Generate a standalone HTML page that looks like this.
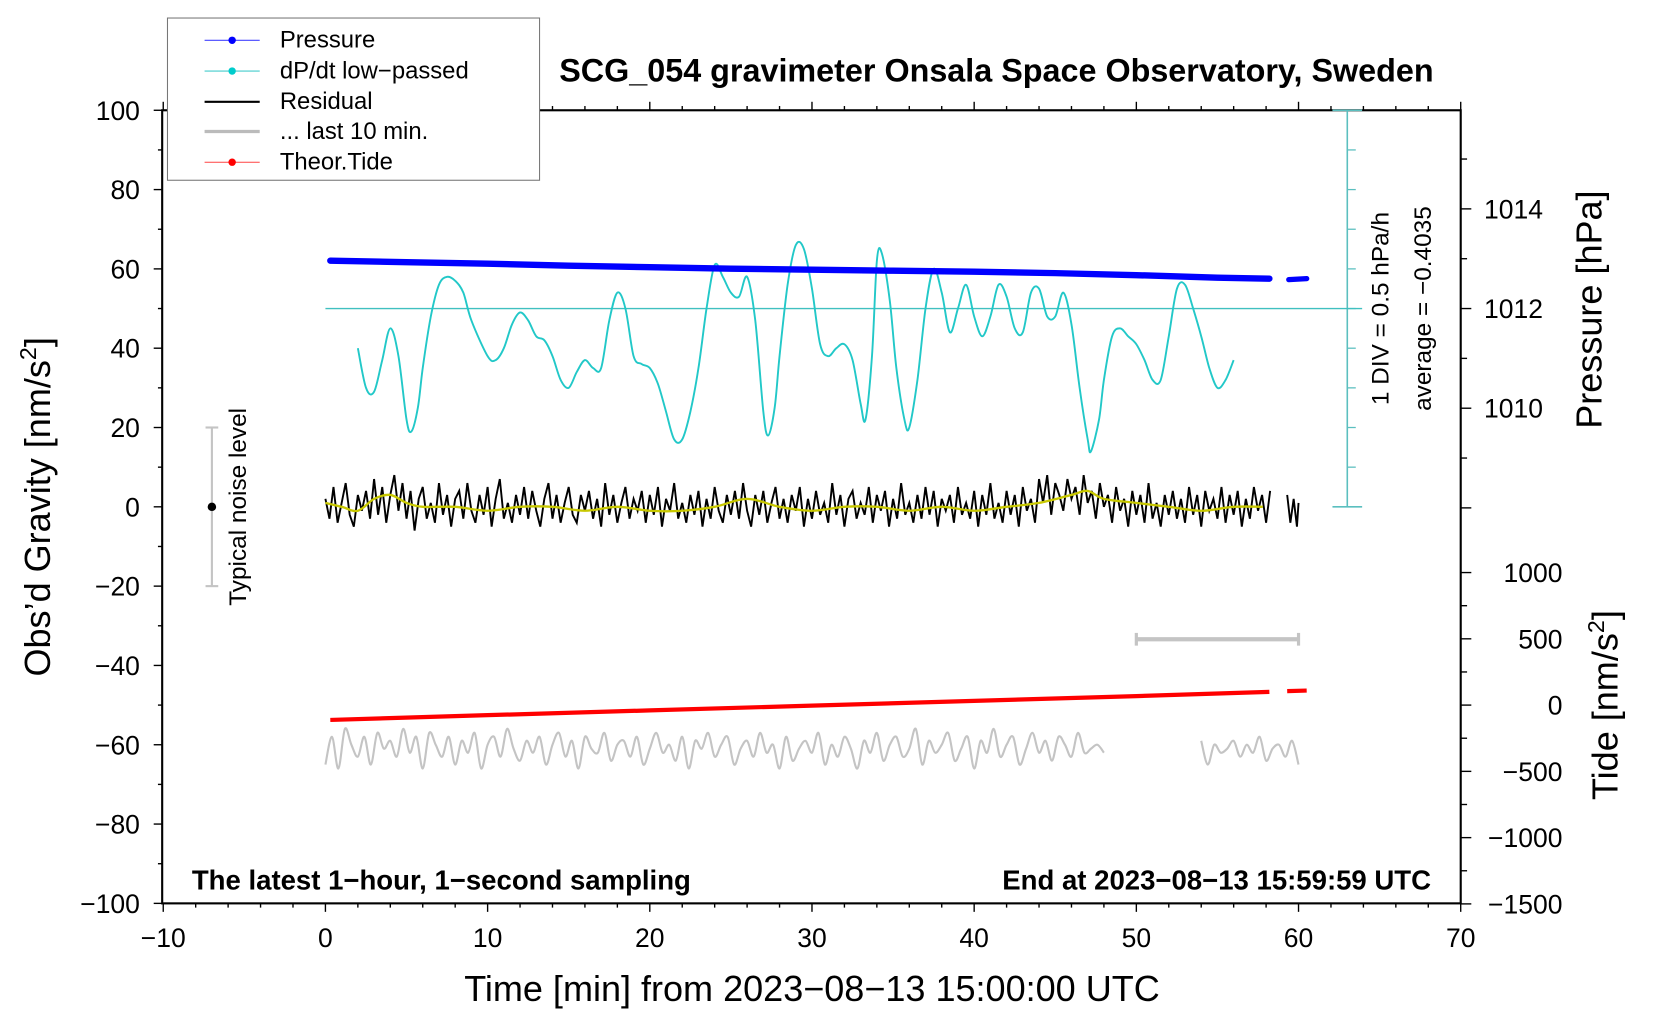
<!DOCTYPE html>
<html><head><meta charset="utf-8">
<style>
html,body{margin:0;padding:0;background:#fff;}
svg{display:block;font-family:"Liberation Sans",Arial,sans-serif;}
</style></head>
<body>
<svg id="chart" width="1660" height="1020" viewBox="0 0 1566 962" preserveAspectRatio="none" xmlns="http://www.w3.org/2000/svg">
<rect x="0" y="0" width="1566" height="962" fill="#fff"/>
<g id="axes"></g>
<g id="series"></g>
<g id="labels">
<text x="940" y="77" font-size="30.5" font-weight="bold" text-anchor="middle">SCG_054 gravimeter Onsala Space Observatory, Sweden</text>
<text x="181" y="839" font-size="26" font-weight="bold">The latest 1−hour, 1−second sampling</text>
<text x="1350" y="839" font-size="26" font-weight="bold" text-anchor="end">End at 2023−08−13 15:59:59 UTC</text>
<text x="766" y="944" font-size="34" text-anchor="middle">Time [min] from 2023−08−13 15:00:00 UTC</text>
<text transform="translate(47,478) rotate(-90)" font-size="34" text-anchor="middle">Obs’d Gravity [nm/s<tspan font-size="22" dy="-13">2</tspan><tspan dy="13">]</tspan></text>
<text transform="translate(1511,292) rotate(-90)" font-size="34" text-anchor="middle">Pressure [hPa]</text>
<text transform="translate(1526,665) rotate(-90)" font-size="34" text-anchor="middle">Tide [nm/s<tspan font-size="22" dy="-13">2</tspan><tspan dy="13">]</tspan></text>
<text transform="translate(1310,291) rotate(-90)" font-size="23" text-anchor="middle">1 DIV = 0.5 hPa/h</text>
<text transform="translate(1350,291) rotate(-90)" font-size="23" text-anchor="middle">average = −0.4035</text>
<text transform="translate(232,478) rotate(-90)" font-size="23" text-anchor="middle">Typical noise level</text>
</g>
<g id="legend">
<rect x="158" y="17" width="351" height="153" fill="#fff" stroke="#777" stroke-width="1"/>
<g><line x1="193" y1="38" x2="245" y2="38" stroke="#44f" stroke-width="1"/><circle cx="219" cy="38" r="3.5" fill="#00f"/><text x="264" y="45" font-size="22.5">Pressure</text></g>
<g><line x1="193" y1="67" x2="245" y2="67" stroke="#4cc" stroke-width="1"/><circle cx="219" cy="67" r="3.5" fill="#0cc"/><text x="264" y="74" font-size="22.5">dP/dt low−passed</text></g>
<g><line x1="193" y1="96" x2="245" y2="96" stroke="#000" stroke-width="2"/><text x="264" y="103" font-size="22.5">Residual</text></g>
<g><line x1="193" y1="124" x2="245" y2="124" stroke="#bbb" stroke-width="3"/><text x="264" y="131" font-size="22.5">... last 10 min.</text></g>
<g><line x1="193" y1="153" x2="245" y2="153" stroke="#f44" stroke-width="1"/><circle cx="219" cy="153" r="3.5" fill="#f00"/><text x="264" y="160" font-size="22.5">Theor.Tide</text></g>
</g>
</svg>
<script>
// ---- data ----
const xTicks = [-10,0,10,20,30,40,50,60,70];
const yTicks = [100,80,60,40,20,0,-20,-40,-60,-80,-100];
const pTicks = [1014,1012,1010];
const tideTicks = [1000,500,0,-500,-1000,-1500];
const pressureMin = [0.3,5,10,15,20,25,30,35,40,45,50,55,58.2];
const pressureVal = [1012.96,1012.93,1012.9,1012.86,1012.83,1012.8,1012.78,1012.76,1012.74,1012.71,1012.67,1012.62,1012.6];
const pressure2Min = [59.4,60.5];
const pressure2Val = [1012.58,1012.6];
const dpdtMin = [2,2.5,3,3.5,4,4.5,5,5.3,5.7,6,6.5,7,7.5,8,8.5,9,10,10.5,11,11.5,12,12.5,13,13.5,14,14.5,15,15.5,16,16.5,17,17.5,18,18.5,19,19.5,20,20.5,21,21.5,22,22.5,23,23.5,24,24.5,25,25.5,26,26.5,27,27.3,27.7,28,28.5,29,29.5,30,30.5,31,31.5,32,32.5,33,33.3,33.7,34,34.3,34.8,35.2,35.7,36,36.5,37,37.5,38,38.5,39,39.5,40,40.5,41,41.5,42,42.5,43,43.5,44,44.5,45,45.5,46,46.5,47,47.2,47.7,48,48.5,49,49.5,50,50.5,51,51.5,52,52.5,53,53.5,54,54.5,55,55.5,56];
const dpdtVal = [40,30,29,37,45,38,22,19,25,35,48,56,58,57,54,47,38,37,40,46,49,47,43,42,38,32,30,34,37,35,35,47,54,50,38,36,35,31,24,17,17,24,35,50,61,58,54,53,58,47,24,18,25,38,56,66,65,55,41,38,40,41,37,26,22,38,62,64,52,35,22,20,32,50,60,54,44,50,56,48,43,48,56,53,45,44,54,55,48,48,54,46,30,17,14,22,32,43,45,43,41,37,32,32,43,55,56,50,43,35,30,32,37];
const residualStart = 0, residualStep = 0.25;
const residualVal = [2,-3,5,-4,1,6,-2,-5,3,-1,4,-3,7,-2,5,-4,3,8,-1,6,-3,4,-6,2,5,-3,1,-4,6,-2,3,-5,2,4,-3,6,-1,-4,3,-2,5,-5,2,7,-3,1,-4,3,-2,5,-3,4,-1,-5,2,6,-3,3,-4,1,5,-2,-4,3,-1,4,-3,2,-5,6,-2,3,-4,1,5,-3,2,-1,4,-4,3,-2,5,-5,2,-1,6,-3,1,-4,3,-2,4,-5,2,-3,5,-1,-4,3,-2,4,-3,6,-1,-5,3,-2,4,-4,1,5,-3,2,-4,3,-1,5,-5,2,-3,4,-2,1,-4,6,-2,3,-5,2,4,-3,1,-2,5,-4,3,-1,4,-5,2,-3,6,-2,1,-4,3,-3,5,-2,4,-5,2,-1,3,-4,5,-2,1,-3,4,-5,3,-2,6,-3,1,-4,4,-2,3,-5,5,-1,2,-4,7,1,8,-2,6,3,-1,7,2,5,-2,8,1,4,-3,6,0,3,-4,5,-1,2,-5,4,-2,3,-4,6,-3,1,-5,3,-2,4,-3,2,-4,5,-2,3,-5,4,-1,2,-3,5,-4,3,-2,4,-5,2,-3,5,-1,3,-4,4];
const residual2Min = [59.3,59.5,59.7,59.9,60];
const residual2Val = [3,-4,2,-5,1];
const smoothMin = [0,1,2,3,4,5,6,8,10,12,14,16,18,20,22,24,26,28,30,32,34,36,38,40,42,44,46,47,48,50,52,54,56,57.8];
const smoothVal = [1,0,-1,2,3,1,0,0,-1,0,0,-1,0,-1,-1,0,2,0,-1,0,0,-1,0,-1,0,1,3,4,2,1,0,-1,0,0];
const grayMin0 = 0, grayStep = 0.4;
const grayVal = [-65,-58,-66,-56,-60,-63,-58,-65,-57,-61,-59,-63,-56,-62,-58,-66,-57,-60,-63,-58,-65,-59,-62,-57,-66,-60,-58,-63,-56,-61,-64,-59,-62,-58,-65,-60,-57,-63,-59,-66,-58,-61,-62,-57,-64,-60,-59,-63,-58,-65,-61,-57,-62,-60,-64,-58,-66,-59,-61,-57,-63,-60,-58,-65,-61,-59,-63,-57,-62,-60,-66,-58,-64,-61,-59,-62,-57,-65,-60,-63,-58,-61,-66,-59,-62,-57,-64,-60,-58,-63,-61,-56,-65,-59,-62,-60,-57,-64,-61,-58,-66,-59,-62,-56,-63,-60,-58,-65,-61,-57,-62,-59,-64,-58,-60,-63,-57,-62,-61,-60,-62];
const gray2Min0 = 54, gray2Step = 0.4;
const gray2Val = [-59,-65,-60,-62,-61,-59,-63,-60,-62,-58,-64,-61,-60,-63,-59,-65];
const tideMin = [0.3,10,20,30,40,50,58.2];
const tideVal = [-112,-76,-40,-4,32,68,100];
const tide2Min = [59.3,60.5];
const tide2Val = [106,110];
const noiseCenter = 0, noiseHalf = 20, noiseX = -7;
const last10Start = 50, last10End = 60, last10Y = -33.4;

// ---- scales ----
const X = m => 307 + m*15.3;
const Y = g => 478 - g*3.74;
const YP = p => 291 - (p-1012)*47;
const YT = t => 665 - t*0.125;
const NS = "http://www.w3.org/2000/svg";
function mk(parent, tag, attrs){const e=document.createElementNS(NS,tag);for(const k in attrs)e.setAttribute(k,attrs[k]);parent.appendChild(e);return e;}
const ax = document.getElementById('axes');
const se = document.getElementById('series');

let fr = mk(ax,'rect',{x:153,y:104,width:1225,height:748,fill:'none',stroke:'#000','stroke-width':2});


for(let m=-10;m<=70;m+=2){
  const major = m%10===0;
  mk(ax,'line',{x1:X(m),x2:X(m),y1:852,y2:852+(major?8:4),stroke:'#000','stroke-width':1.3});
  mk(ax,'line',{x1:X(m),x2:X(m),y1:104,y2:104-(major?8:4),stroke:'#000','stroke-width':1.3});
}
xTicks.forEach(v=>{const t=mk(ax,'text',{x:X(v),y:893,'font-size':25,'text-anchor':'middle'});t.textContent=String(v).replace('-','−');

});
for(let g=-100;g<=100;g+=10){mk(ax,'line',{x1:153,x2:153-(g%20===0?8:4),y1:Y(g),y2:Y(g),stroke:'#000','stroke-width':1.3});}
yTicks.forEach(v=>{const t=mk(ax,'text',{x:132,y:Y(v)+9,'font-size':25,'text-anchor':'end'});t.textContent=String(v).replace('-','−');

});
for(let p=1008;p<=1015;p+=1){mk(ax,'line',{x1:1378,x2:1378+(p%2===0?10:6),y1:YP(p),y2:YP(p),stroke:'#000','stroke-width':1.3});}
pTicks.forEach(v=>{const t=mk(ax,'text',{x:1400,y:YP(v)+9,'font-size':25});t.textContent=v;

});
for(let t=-1500;t<=1000;t+=250){mk(ax,'line',{x1:1378,x2:1378+(t%500===0?10:6),y1:YT(t),y2:YT(t),stroke:'#000','stroke-width':1.3});}
tideTicks.forEach(v=>{const t=mk(ax,'text',{x:1474,y:YT(v)+9,'font-size':25,'text-anchor':'end'});t.textContent=String(v).replace('-','−');

});
mk(ax,'line',{x1:1271,x2:1271,y1:104,y2:478,stroke:'#5bbfbf','stroke-width':1.5});
mk(ax,'line',{x1:1257,x2:1285,y1:104,y2:104,stroke:'#5bbfbf','stroke-width':1.5});
mk(ax,'line',{x1:1257,x2:1285,y1:478,y2:478,stroke:'#5bbfbf','stroke-width':1.5});
for(let i=1;i<10;i++){const yy=104+i*37.4;mk(ax,'line',{x1:1271,x2:1279,y1:yy,y2:yy,stroke:'#5bbfbf','stroke-width':1.2});}
mk(ax,'line',{x1:307,x2:1285,y1:291,y2:291,stroke:'#40c0c0','stroke-width':1.3});

function path(xs,ys,fx,fy,attrs,name,smooth){
  const P=xs.map((x,i)=>[fx(x),fy(ys[i])]);
  let d='M'+P[0][0].toFixed(1)+' '+P[0][1].toFixed(1);
  for(let i=1;i<P.length;i++){
    if(smooth){const p0=P[i-2]||P[i-1],p1=P[i-1],p2=P[i],p3=P[i+1]||P[i];
      const c1=[p1[0]+(p2[0]-p0[0])/6,p1[1]+(p2[1]-p0[1])/6],c2=[p2[0]-(p3[0]-p1[0])/6,p2[1]-(p3[1]-p1[1])/6];
      d+='C'+c1.map(v=>v.toFixed(1)).join(' ')+' '+c2.map(v=>v.toFixed(1)).join(' ')+' '+p2[0].toFixed(1)+' '+p2[1].toFixed(1);}
    else d+='L'+P[i][0].toFixed(1)+' '+P[i][1].toFixed(1);
  }
  const p=mk(se,'path',Object.assign({d:d,fill:'none'},attrs));
  
  return p;}

const gm = grayVal.map((_,i)=>grayMin0+i*grayStep);
path(gm,grayVal,X,Y,{stroke:'#c4c4c4','stroke-width':2},'last-10-min-line',true);
const gm2 = gray2Val.map((_,i)=>gray2Min0+i*gray2Step);
path(gm2,gray2Val,X,Y,{stroke:'#c4c4c4','stroke-width':2},'last-10-min-line-2',true);
path(tideMin,tideVal,X,YT,{stroke:'#f00','stroke-width':4},'tide-line');
path(tide2Min,tide2Val,X,YT,{stroke:'#f00','stroke-width':4},'tide-line-2');
const rm = residualVal.map((_,i)=>residualStart+i*residualStep);
path(rm,residualVal,X,Y,{stroke:'#000','stroke-width':1.8},'residual-line');
path(residual2Min,residual2Val,X,Y,{stroke:'#000','stroke-width':1.8},'residual-line-2');
path(smoothMin,smoothVal,X,Y,{stroke:'#c8c800','stroke-width':2.2},'residual-smoothed-line',true);
path(dpdtMin,dpdtVal,X,Y,{stroke:'#22c8c8','stroke-width':1.8},'dpdt-line',true);
path(pressureMin,pressureVal,X,YP,{stroke:'#0000ff','stroke-width':6,'stroke-linecap':'round'},'pressure-dots');
path(pressure2Min,pressure2Val,X,YP,{stroke:'#0000ff','stroke-width':5,'stroke-linecap':'round'},'pressure-dots-2');
const nb = mk(se,'line',{x1:X(noiseX),x2:X(noiseX),y1:Y(noiseHalf),y2:Y(-noiseHalf),stroke:'#c4c4c4','stroke-width':2});


mk(se,'line',{x1:X(noiseX)-6,x2:X(noiseX)+6,y1:Y(noiseHalf),y2:Y(noiseHalf),stroke:'#c4c4c4','stroke-width':2});
mk(se,'line',{x1:X(noiseX)-6,x2:X(noiseX)+6,y1:Y(-noiseHalf),y2:Y(-noiseHalf),stroke:'#c4c4c4','stroke-width':2});
const nd = mk(se,'circle',{cx:X(noiseX),cy:Y(noiseCenter),r:4,fill:'#000'});


const lb = mk(se,'line',{x1:X(last10Start),x2:X(last10End),y1:Y(last10Y),y2:Y(last10Y),stroke:'#c4c4c4','stroke-width':4});


mk(se,'line',{x1:X(last10Start),x2:X(last10Start),y1:Y(last10Y)-6,y2:Y(last10Y)+6,stroke:'#c4c4c4','stroke-width':3});
mk(se,'line',{x1:X(last10End),x2:X(last10End),y1:Y(last10Y)-6,y2:Y(last10Y)+6,stroke:'#c4c4c4','stroke-width':3});
</script>
</body></html>
